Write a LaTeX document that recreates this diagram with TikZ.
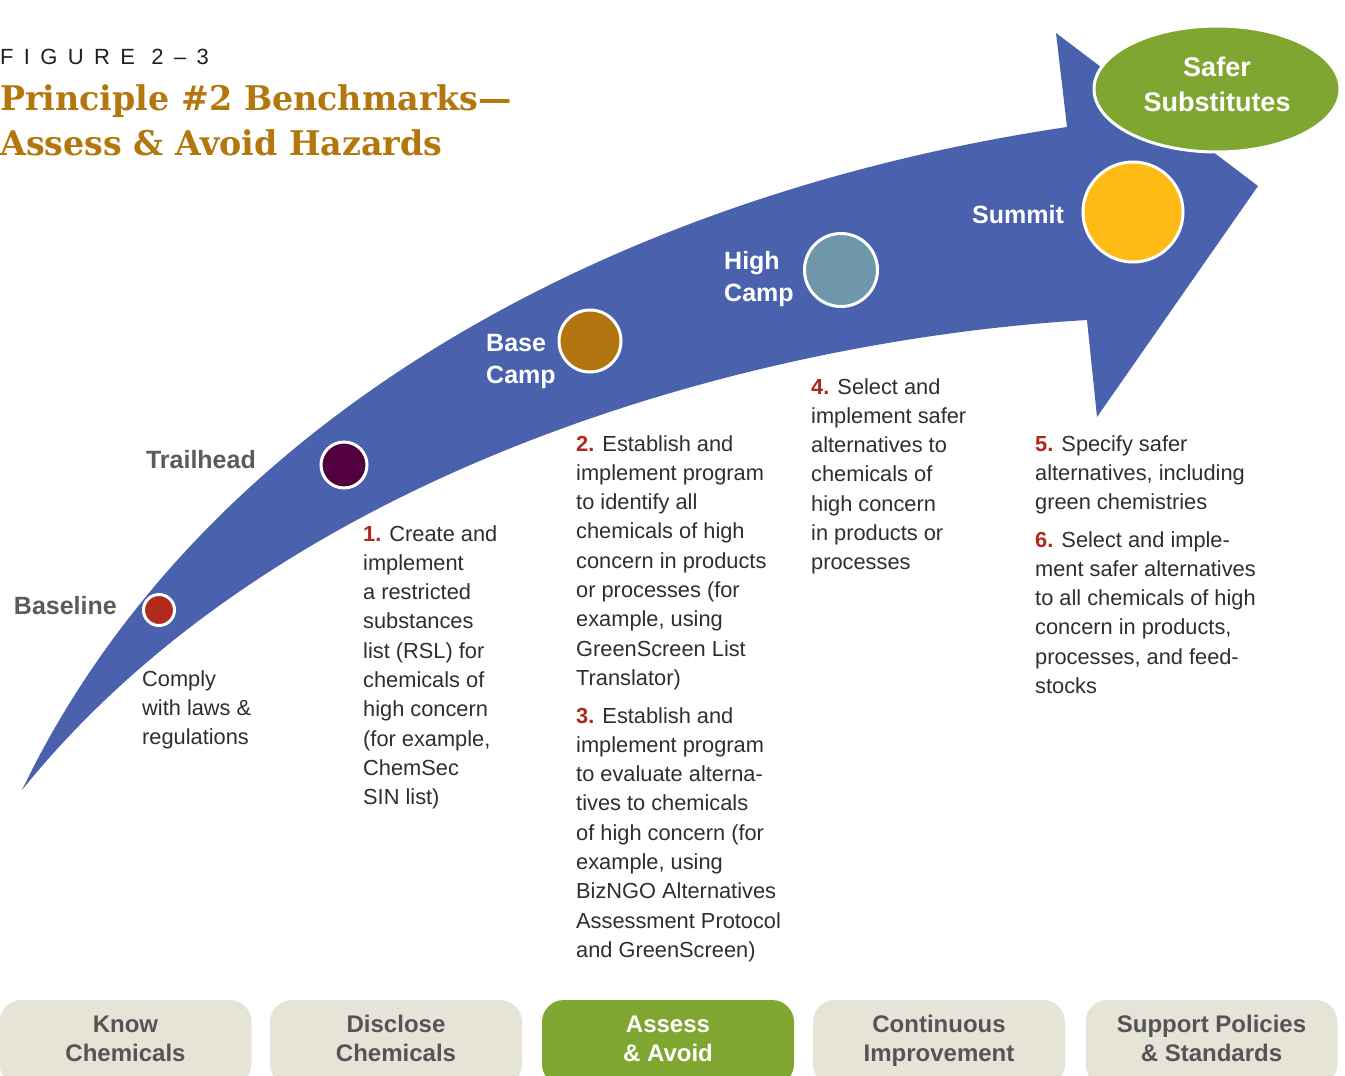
\documentclass[tikz,border=0pt]{standalone}
\usepackage{fontspec}
\setmainfont{Liberation Sans}
\newfontfamily\titlefont{DejaVu Serif}[FakeStretch=0.98]
\usetikzlibrary{shapes.geometric}

\definecolor{trailblue}{HTML}{4A62AD}
\definecolor{safergreen}{HTML}{7EA631}
\definecolor{tabgray}{HTML}{E6E3D7}
\definecolor{tabtext}{HTML}{555555}
\definecolor{labelgray}{HTML}{5B5B5B}
\definecolor{bodygray}{HTML}{2E2E2E}
\definecolor{numred}{HTML}{B0281C}
\definecolor{titlegold}{HTML}{B3770E}
\definecolor{figblack}{HTML}{231F20}
\definecolor{baselinered}{HTML}{B02A1E}
\definecolor{trailpurple}{HTML}{52003F}
\definecolor{basebrown}{HTML}{B2750F}
\definecolor{highsteel}{HTML}{6E97AB}
\definecolor{summityellow}{HTML}{FDBB14}

\newcommand{\bnum}[1]{\textcolor{numred}{\bfseries #1.}}

\begin{document}
\begin{tikzpicture}[x=1pt,y=-1pt,
  stop/.style={circle, draw=white, line width=3pt, inner sep=0pt},
  stoplabel/.style={anchor=east, inner sep=0pt, text=labelgray, font=\bfseries\fontsize{25}{29}\selectfont},
  camplabel/.style={anchor=west, inner sep=0pt, align=left, text=white, font=\bfseries\fontsize{25}{32}\selectfont},
  note/.style={anchor=north west, inner sep=0pt, align=left, text=bodygray, font=\fontsize{21.8}{29.3}\selectfont},
  tab/.style={rounded corners=22pt, minimum width=252pt, minimum height=86pt, inner sep=0pt, fill=tabgray, text=tabtext, align=center,
              font=\bfseries\fontsize{24}{29}\selectfont, execute at begin node=\strut, execute at end node=\strut}]
  \useasboundingbox (0,0) rectangle (1345,1076);

  % heading
  \node[anchor=west, inner sep=0pt, text=figblack, font=\fontsize{22}{26}\selectfont\addfontfeature{LetterSpace=47}] (fignum) at (0,57) {FIGURE 2–3};
  \node[anchor=north west, inner sep=0pt, align=left, text=titlegold, font=\titlefont\bfseries\fontsize{34}{45}\selectfont] (title) at (0,84) {Principle \#2 Benchmarks—\\Assess \& Avoid Hazards};

  % the trail arrow
  \fill[trailblue] (22,790) .. controls (200,420) and (610,195) .. (1067,127)
    -- (1056,33) -- (1258,186) -- (1097,417) -- (1087,320)
    .. controls (750,340) and (280,470) .. (22,790) -- cycle;

  \node[ellipse, fill=safergreen, draw=white, line width=3pt, minimum width=246pt, minimum height=126pt, inner sep=0pt,
        text=white, align=center, font=\bfseries\fontsize{27}{35}\selectfont, execute at end node=\strut] (safer) at (1217,89) {Safer\\Substitutes};

  % stops along the trail
  \node[stop, fill=baselinered,  minimum size=31pt]  (baseline)  at (159,610) {};
  \node[stop, fill=trailpurple,  minimum size=46pt]  (trailhead) at (344,465) {};
  \node[stop, fill=basebrown,    minimum size=62pt]  (basecamp)  at (590,341) {};
  \node[stop, fill=highsteel,    minimum size=73pt]  (highcamp)  at (841,270) {};
  \node[stop, fill=summityellow, minimum size=100pt] (summit)    at (1133,212) {};

  \node[stoplabel] at (117,606) {Baseline};
  \node[stoplabel] at (256,460) {Trailhead};
  \node[camplabel] at (486,361) {Base\\Camp};
  \node[camplabel] at (724,279) {High\\Camp};
  \node[camplabel] at (972,215) {Summit};

  % benchmarks
  \node[note] (comply) at (142,670) {Comply\\with laws \&\\regulations};
  \node[note] (bm1) at (363,525) {\bnum{1} Create and\\implement\\a restricted\\substances\\list (RSL) for\\chemicals of\\high concern\\(for example,\\ChemSec\\SIN list)};
  \node[note] (bm2) at (576,435) {\bnum{2} Establish and\\implement program\\to identify all\\chemicals of high\\concern in products\\or processes (for\\example, using\\GreenScreen List\\Translator)};
  \node[note] (bm3) at (576,707) {\bnum{3} Establish and\\implement program\\to evaluate alterna-\\tives to chemicals\\of high concern (for\\example, using\\BizNGO Alternatives\\Assessment Protocol\\and GreenScreen)};
  \node[note] (bm4) at (811,378) {\bnum{4} Select and\\implement safer\\alternatives to\\chemicals of\\high concern\\in products or\\processes};
  \node[note] (bm5) at (1035,435) {\bnum{5} Specify safer\\alternatives, including\\green chemistries};
  \node[note] (bm6) at (1035,531) {\bnum{6} Select and imple-\\ment safer alternatives\\to all chemicals of high\\concern in products,\\processes, and feed-\\stocks};

  % principle tabs
  \node[tab] (know)     at (125.5,1043) {Know\\Chemicals};
  \node[tab] (disclose) at (396,1043)   {Disclose\\Chemicals};
  \node[tab, fill=safergreen, text=white] (assess) at (668,1043) {Assess\\\& Avoid};
  \node[tab] (improve)  at (939,1043)   {Continuous\\Improvement};
  \node[tab] (support)  at (1211.5,1043) {Support Policies\\\& Standards};
\end{tikzpicture}
\end{document}
